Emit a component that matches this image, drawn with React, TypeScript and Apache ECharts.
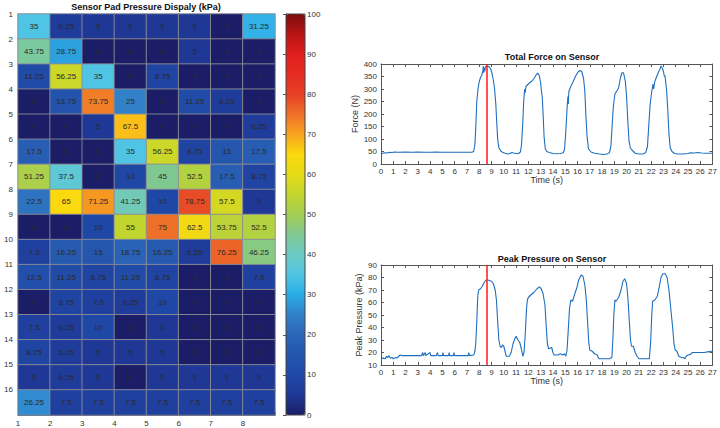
import React, { useEffect, useRef } from "react";
import * as echarts from "echarts";

const FONT = "Liberation Sans, Arial, sans-serif";

const heatTitle = "Sensor Pad Pressure Dispaly (kPa)";
const forceTitle = "Total Force on Sensor";
const pressTitle = "Peak Pressure on Sensor";

const heatCols = ["1", "2", "3", "4", "5", "6", "7", "8"];
const heatRows = ["1", "2", "3", "4", "5", "6", "7", "8", "9", "10", "11", "12", "13", "14", "15", "16"];

const heatValues: number[][] = [
  [35, 6.25, 5, 5, 5, 5, 0, 31.25],
  [43.75, 28.75, 0, 0, 0, 5, 0, 0],
  [11.25, 56.25, 35, 0, 8.75, 0, 0, 0],
  [0, 13.75, 73.75, 25, 0, 11.25, 6.25, 0],
  [0, 0, 5, 67.5, 0, 0, 0, 6.25],
  [17.5, 0, 0, 35, 56.25, 8.75, 15, 17.5],
  [51.25, 37.5, 0, 10, 45, 52.5, 17.5, 8.75],
  [22.5, 65, 71.25, 41.25, 10, 78.75, 57.5, 5],
  [0, 0, 10, 55, 75, 62.5, 53.75, 52.5],
  [7.5, 16.25, 15, 18.75, 16.25, 6.25, 76.25, 46.25],
  [12.5, 11.25, 8.75, 11.25, 8.75, 0, 0, 7.5],
  [0, 8.75, 7.5, 6.25, 10, 0, 0, 0],
  [7.5, 6.25, 10, 0, 5, 0, 0, 0],
  [8.75, 6.25, 5, 5, 5, 0, 0, 0],
  [5, 6.25, 5, 0, 5, 5, 5, 5],
  [26.25, 7.5, 7.5, 7.5, 7.5, 7.5, 7.5, 7.5],
];

const colorStops = [
  "#1b1e66", "#1f3896", "#1f48a6", "#2456ae", "#2a66b8", "#3280c8", "#28ace6",
  "#50c4e4", "#6ccbc4", "#80c892", "#a4ce54", "#c2d52e", "#e6db18", "#fbd90f",
  "#f8a420", "#ee7028", "#e64026", "#e42c22", "#e01e1e", "#b81414", "#7c0c0c",
];

const markerTime = 8.65;

const forceData: [number, number][] = [
  [0, 40], [0.15, 43], [0.3, 45], [0.5, 44], [0.7, 47], [0.9, 46], [1.1, 48], [1.4, 47], [2, 48], [2.5, 47],
  [3, 48], [3.5, 47], [4, 47], [4.5, 48], [5, 47], [5.5, 47], [6, 47], [6.5, 47], [7, 47], [7.4, 47],
  [7.55, 50], [7.65, 80], [7.72, 150], [7.8, 250], [7.9, 300], [8.0, 330], [8.1, 345], [8.2, 355], [8.3, 372],
  [8.33, 392], [8.36, 365], [8.4, 385], [8.45, 370], [8.5, 388], [8.6, 392], [8.75, 390], [8.85, 387],
  [8.95, 378], [9.05, 360], [9.15, 335], [9.25, 300], [9.35, 240], [9.42, 170], [9.5, 100], [9.6, 65],
  [9.75, 52], [9.9, 47], [10.1, 43], [10.3, 40], [10.5, 42], [10.65, 46], [10.8, 44], [11.0, 42], [11.2, 42],
  [11.35, 48], [11.45, 80], [11.55, 170], [11.62, 250], [11.7, 300], [11.75, 285], [11.8, 310], [11.9, 315],
  [12.1, 325], [12.3, 332], [12.5, 345], [12.65, 358], [12.78, 363], [12.9, 352], [13.0, 325], [13.08, 285],
  [13.13, 270], [13.2, 200], [13.28, 110], [13.38, 60], [13.5, 50], [13.7, 46], [14.0, 42], [14.3, 41],
  [14.6, 42], [14.85, 45], [14.95, 60], [15.05, 130], [15.15, 220], [15.22, 270], [15.25, 240], [15.3, 290],
  [15.45, 310], [15.65, 330], [15.85, 352], [16.05, 368], [16.2, 374], [16.35, 370], [16.5, 340], [16.6, 290],
  [16.68, 200], [16.78, 110], [16.9, 60], [17.1, 48], [17.4, 43], [17.8, 40], [18.1, 38], [18.4, 40],
  [18.6, 45], [18.72, 70], [18.82, 150], [18.92, 230], [19.05, 280], [19.2, 292], [19.35, 305], [19.5, 345],
  [19.62, 365], [19.75, 365], [19.9, 330], [20.0, 270], [20.1, 170], [20.2, 90], [20.25, 80], [20.3, 65],
  [20.45, 55], [20.7, 43], [21.0, 40], [21.3, 40], [21.55, 45], [21.7, 70], [21.8, 150], [21.92, 240],
  [22.05, 290], [22.15, 320], [22.2, 300], [22.3, 330], [22.45, 350], [22.6, 368], [22.72, 380], [22.8, 392],
  [22.9, 385], [23.0, 370], [23.08, 350], [23.12, 355], [23.25, 300], [23.35, 220], [23.45, 120], [23.55, 65],
  [23.7, 50], [23.9, 42], [24.2, 40], [24.6, 40], [25.0, 42], [25.2, 45], [25.5, 44], [25.8, 46], [26.1, 44],
  [26.5, 43], [27, 43],
];

const pressData: [number, number][] = [
  [0, 15], [0.2, 15.5], [0.35, 15], [0.45, 17], [0.55, 16], [0.65, 17.5], [0.75, 15.5], [0.9, 16], [1.0, 15],
  [1.2, 16], [1.3, 15.5], [1.45, 17], [1.55, 18], [1.7, 17.5], [2.5, 17.5], [3.3, 17.5], [3.4, 20], [3.45, 17.5],
  [3.6, 20], [3.65, 17.5], [4.0, 20], [4.05, 17.5], [4.5, 17.5], [4.6, 20], [4.65, 17.5], [5.0, 17.5],
  [5.05, 20], [5.1, 17.5], [5.5, 17.5], [5.55, 20], [5.6, 17.5], [5.9, 17.5], [5.95, 20], [6.0, 17.5],
  [7.1, 17.5], [7.15, 20], [7.2, 17.5], [7.55, 18], [7.65, 21], [7.72, 28], [7.8, 45], [7.88, 65], [7.95, 70],
  [8.1, 71], [8.25, 73], [8.4, 76], [8.55, 78], [8.7, 78], [9.0, 77], [9.15, 75], [9.3, 70], [9.4, 62],
  [9.5, 45], [9.6, 30], [9.7, 25], [9.8, 24], [9.9, 26], [10.0, 25], [10.1, 21], [10.2, 17], [10.45, 17],
  [10.6, 20], [10.75, 27], [10.9, 31], [11.0, 33], [11.15, 30], [11.3, 28], [11.45, 22], [11.55, 17],
  [11.65, 20], [11.75, 35], [11.85, 55], [11.92, 62], [12.0, 64], [12.2, 66], [12.45, 68], [12.7, 71],
  [12.9, 72.5], [13.05, 71], [13.2, 67], [13.35, 58], [13.45, 42], [13.55, 27], [13.65, 23], [13.9, 24],
  [14.0, 20], [14.1, 18], [14.4, 18], [14.6, 19], [14.8, 18], [14.95, 19], [15.05, 17], [15.15, 22],
  [15.25, 38], [15.35, 55], [15.45, 62], [15.6, 61], [15.75, 66], [15.95, 72], [16.1, 78], [16.3, 82],
  [16.45, 81], [16.6, 74], [16.72, 62], [16.82, 45], [16.92, 28], [17.0, 22], [17.2, 21], [17.4, 19],
  [17.6, 18], [17.75, 15], [18.2, 15], [18.6, 15], [18.8, 16], [18.88, 30], [18.97, 52], [19.05, 62],
  [19.15, 61], [19.35, 64], [19.55, 70], [19.7, 77], [19.85, 79], [20.0, 75], [20.12, 62], [20.22, 45],
  [20.32, 30], [20.4, 25], [20.55, 25], [20.7, 20], [20.85, 17], [21.0, 15], [21.5, 15], [21.85, 15],
  [21.95, 27], [22.05, 50], [22.12, 61], [22.3, 62], [22.5, 65], [22.65, 72], [22.8, 80], [22.95, 83],
  [23.15, 83], [23.3, 80], [23.45, 70], [23.6, 55], [23.75, 40], [23.85, 28], [23.95, 22], [24.1, 21],
  [24.25, 17], [24.45, 16], [24.6, 16], [24.75, 15], [24.85, 17], [25.0, 18], [25.2, 18.5], [25.35, 20],
  [25.8, 20], [26.3, 20], [26.6, 20.5], [26.9, 21], [27, 21],
];

const AX = "#555";
const LBL = "#333";

function boxAxes(gridIndex: number, min: number, max: number, interval: number, name: string, isX: boolean, nameGap: number) {
  const common = {
    gridIndex,
    type: "value" as const,
    min,
    max,
    interval,
    splitLine: { show: false },
    axisLine: { show: true, onZero: false, lineStyle: { color: AX, width: 1 } },
    axisTick: { show: true, inside: true, length: 3, lineStyle: { color: AX } },
  };
  const main = {
    ...common,
    position: isX ? "bottom" : "left",
    name,
    nameLocation: "middle",
    nameGap,
    nameTextStyle: { fontFamily: FONT, fontSize: 9, color: LBL },
    axisLabel: { show: true, fontFamily: FONT, fontSize: 8, color: LBL, margin: isX ? 3 : 4, hideOverlap: false },
  };
  const other = {
    ...common,
    position: isX ? "top" : "right",
    axisLabel: { show: false },
  };
  return [main, other];
}

export default function App() {
  const ref = useRef<HTMLDivElement>(null);
  useEffect(() => {
    if (!ref.current) return;
    const chart = echarts.init(ref.current, undefined, { renderer: "svg" });

    const heatData: [number, number, number][] = [];
    heatValues.forEach((row, r) => row.forEach((v, c) => heatData.push([c, r, v])));

    const [fx, fx2] = boxAxes(1, 0, 27, 1, "Time (s)", true, 9);
    const [fy, fy2] = boxAxes(1, 0, 400, 50, "Force (N)", false, 22);
    const [px, px2] = boxAxes(2, 0, 27, 1, "Time (s)", true, 9);
    const [py, py2] = boxAxes(2, 10, 90, 10, "Peak Pressure (kPa)", false, 18);

    const option: any = {
      animation: false,
      backgroundColor: "#fff",
      textStyle: { fontFamily: FONT },
      grid: [
        { left: 18, top: 14, width: 257, height: 401 },
        { left: 381, top: 64, width: 337, height: 100 },
        { left: 381, top: 265, width: 336, height: 100 },
        { left: 286, top: 14, width: 19, height: 401 },
      ],
      xAxis: [
        { gridIndex: 0, type: "category", data: heatCols, show: false },
        {
          gridIndex: 0, type: "value", min: 1, max: 9, interval: 1, position: "bottom",
          axisLine: { show: true, onZero: false, lineStyle: { color: AX } },
          axisTick: { show: true, inside: true, length: 3, lineStyle: { color: AX } },
          splitLine: { show: false },
          axisLabel: { fontFamily: FONT, fontSize: 8, color: LBL, margin: 4, formatter: (v: number) => (v >= 9 ? "" : String(v)) },
        },
        fx, fx2, px, px2,
        { gridIndex: 3, type: "value", show: false, min: 0, max: 1 },
      ],
      yAxis: [
        { gridIndex: 0, type: "category", data: heatRows, inverse: true, show: false },
        {
          gridIndex: 0, type: "value", min: 1, max: 17, interval: 1, inverse: true, position: "left",
          axisLine: { show: true, onZero: false, lineStyle: { color: AX } },
          axisTick: { show: true, inside: true, length: 3, lineStyle: { color: AX } },
          splitLine: { show: false },
          axisLabel: { fontFamily: FONT, fontSize: 8, color: LBL, margin: 5, formatter: (v: number) => (v >= 17 ? "" : String(v)) },
        },
        fy, fy2, py, py2,
        {
          gridIndex: 3, type: "value", min: 0, max: 100, interval: 10, position: "right",
          axisLine: { show: true, lineStyle: { color: AX } },
          axisTick: { show: true, inside: true, length: 3, lineStyle: { color: AX } },
          splitLine: { show: false },
          axisLabel: { fontFamily: FONT, fontSize: 8, color: LBL, margin: 2 },
        },
      ],
      visualMap: {
        type: "continuous",
        seriesIndex: 0,
        min: 0,
        max: 100,
        calculable: false,
        left: 286,
        top: 14,
        itemWidth: 19,
        itemHeight: 401,
        padding: 0,
        text: null,
        inRange: { color: colorStops },
        textStyle: { fontSize: 0 },
      },
      graphic: [
        { type: "text", x: 146, y: 7, style: { text: heatTitle, font: `bold 9px ${FONT}`, fill: "#111", textAlign: "center", textVerticalAlign: "middle" } },
        { type: "text", x: 552, y: 57, style: { text: forceTitle, font: `bold 9px ${FONT}`, fill: "#111", textAlign: "center", textVerticalAlign: "middle" } },
        { type: "text", x: 552, y: 259, style: { text: pressTitle, font: `bold 9px ${FONT}`, fill: "#111", textAlign: "center", textVerticalAlign: "middle" } },
        { type: "rect", shape: { x: 286, y: 14, width: 19, height: 401 }, style: { fill: "none", stroke: "#444", lineWidth: 1 }, z: 100 },
      ],
      series: [
        {
          type: "heatmap",
          xAxisIndex: 0,
          yAxisIndex: 0,
          data: heatData,
          itemStyle: { borderColor: "rgba(140,140,150,0.9)", borderWidth: 1 },
          label: {
            show: true,
            fontFamily: FONT,
            fontSize: 8,
            color: "#2a2a2a",
            formatter: (p: any) => String(p.value[2]),
          },
        },
        {
          type: "line",
          xAxisIndex: 2,
          yAxisIndex: 2,
          data: forceData,
          showSymbol: false,
          lineStyle: { color: "#1f6fbf", width: 1.1 },
          markLine: {
            silent: true,
            symbol: "none",
            label: { show: false },
            lineStyle: { color: "#ff1a1a", width: 1.5, type: "solid" },
            data: [{ xAxis: markerTime }],
          },
        },
        {
          type: "line",
          xAxisIndex: 4,
          yAxisIndex: 4,
          data: pressData,
          showSymbol: false,
          lineStyle: { color: "#1f6fbf", width: 1.1 },
          markLine: {
            silent: true,
            symbol: "none",
            label: { show: false },
            lineStyle: { color: "#ff1a1a", width: 1.5, type: "solid" },
            data: [{ xAxis: markerTime }],
          },
        },
      ],
    };
    chart.setOption(option);
    return () => chart.dispose();
  }, []);
  return <div ref={ref} style={{ width: 720, height: 428, position: "absolute", left: 0, top: 0 }} />;
}
